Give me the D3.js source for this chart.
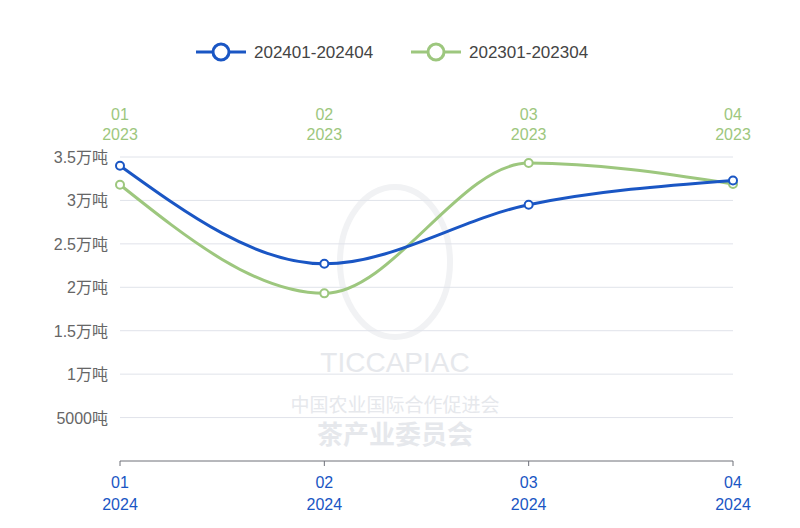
<!DOCTYPE html>
<html lang="en">
<head>
  <meta charset="UTF-8">
  <title>茶叶月度对比</title>
  <style>
    body { margin: 0; background: #fff; }
    text { font-family: "Liberation Sans", "Noto Sans CJK SC", sans-serif; }
  </style>
</head>
<script src='https://d3js.org/d3.v7.min.js'></script>
<body>
  <div id="chart"></div>
</body>
<script>
  const months = ['01', '02', '03', '04'];
  const seriesNames = ['202401-202404', '202301-202304'];
  const values2024 = [34000, 22700, 29500, 32300];
  const values2023 = [31800, 19300, 34300, 31900];
  const yTicks = [0, 5000, 10000, 15000, 20000, 25000, 30000, 35000];
  const colors = ['#1a56c4', '#9dc77e'];

  const w = 800, h = 528;
  const plotLeft = 120, plotRight = 733, plotTop = 157, plotBottom = 461;

  const svg = d3.select('#chart').append('svg')
    .attr('width', w)
    .attr('height', h);

  const x = d3.scalePoint().domain(months).range([plotLeft, plotRight]);
  const y = d3.scaleLinear().domain([0, 35000]).range([plotBottom, plotTop]);

  const fmt = (v) => v === 0 ? '' : (v >= 10000 ? (v / 10000) + '万吨' : v + '吨');

  // watermark
  const wm = svg.append('g').attr('fill', '#e6e8ec').attr('text-anchor', 'middle');
  wm.append('text').attr('x', 395).attr('y', 372).style('font-size', '28px').text('TICCAPIAC');
  wm.append('text').attr('x', 395).attr('y', 412).style('font-size', '19px').text('中国农业国际合作促进会');
  wm.append('text').attr('x', 395).attr('y', 444).style('font-size', '26px').style('font-weight', 'bold').text('茶产业委员会');
  wm.append('ellipse').attr('cx', 395).attr('cy', 262).attr('rx', 55).attr('ry', 75)
    .attr('fill', 'none').attr('stroke', '#f1f2f4').attr('stroke-width', 6);

  // grid
  svg.append('g').selectAll('line')
    .data(yTicks.filter(d => d > 0))
    .enter().append('line')
    .attr('x1', plotLeft).attr('x2', plotRight)
    .attr('y1', d => y(d)).attr('y2', d => y(d))
    .attr('stroke', '#e0e3ea');

  svg.append('g').selectAll('text')
    .data(yTicks)
    .enter().append('text')
    .attr('x', plotLeft - 12).attr('y', d => y(d) + 6)
    .attr('text-anchor', 'end')
    .attr('fill', '#666')
    .style('font-size', '16px')
    .text(fmt);

  // bottom axis
  svg.append('line').attr('x1', plotLeft).attr('x2', plotRight).attr('y1', plotBottom).attr('y2', plotBottom).attr('stroke', '#6e7079');
  const bt = svg.append('g').selectAll('g').data(months).enter().append('g');
  bt.append('line').attr('x1', d => x(d)).attr('x2', d => x(d)).attr('y1', plotBottom).attr('y2', plotBottom + 5).attr('stroke', '#6e7079');
  bt.append('text').attr('x', d => x(d)).attr('y', 488).attr('text-anchor', 'middle').attr('fill', colors[0]).style('font-size', '16px').text(d => d);
  bt.append('text').attr('x', d => x(d)).attr('y', 510).attr('text-anchor', 'middle').attr('fill', colors[0]).style('font-size', '16px').text('2024');

  // top axis
  const tt = svg.append('g').selectAll('g').data(months).enter().append('g');
  tt.append('text').attr('x', d => x(d)).attr('y', 120).attr('text-anchor', 'middle').attr('fill', colors[1]).style('font-size', '16px').text(d => d);
  tt.append('text').attr('x', d => x(d)).attr('y', 140).attr('text-anchor', 'middle').attr('fill', colors[1]).style('font-size', '16px').text('2023');

  const line = d3.line().x((d, i) => x(months[i])).y(d => y(d)).curve(d3.curveMonotoneX);

  [values2023, values2024].forEach((vals, k) => {
    const c = k === 0 ? colors[1] : colors[0];
    svg.append('path').datum(vals).attr('d', line).attr('fill', 'none').attr('stroke', c).attr('stroke-width', 3);
    svg.append('g').selectAll('circle').data(vals).enter().append('circle')
      .attr('cx', (d, i) => x(months[i])).attr('cy', d => y(d)).attr('r', 4)
      .attr('fill', '#fff').attr('stroke', c).attr('stroke-width', 2);
  });

  // legend
  const lg = svg.append('g').selectAll('g').data(seriesNames).enter().append('g')
    .attr('transform', (d, i) => `translate(${i === 0 ? 196 : 411},52)`);
  lg.append('line').attr('x1', 0).attr('x2', 50).attr('stroke', (d, i) => colors[i]).attr('stroke-width', 3);
  lg.append('circle').attr('cx', 25).attr('r', 8).attr('fill', '#fff').attr('stroke', (d, i) => colors[i]).attr('stroke-width', 3);
  lg.append('text').attr('x', 58).attr('y', 6).attr('fill', '#444').style('font-size', '17px').text(d => d);
</script>
</html>
